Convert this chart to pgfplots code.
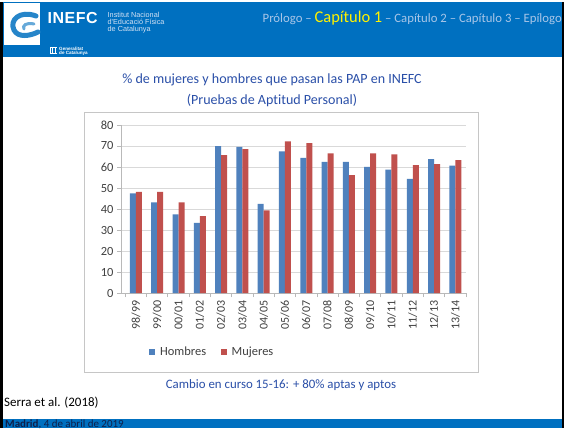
\documentclass[border=0pt]{standalone}
\usepackage{fontspec}
\setmainfont{Carlito}[Ligatures=NoCommon]
\newfontfamily\arial{Liberation Sans}
\usepackage{pgfplots}
\pgfplotsset{compat=1.18}
\definecolor{hdr}{HTML}{0070C0}
\definecolor{bblue}{HTML}{4F81BD}
\definecolor{bred}{HTML}{C0504D}
\definecolor{ttl}{HTML}{2A4FA8}
\definecolor{hlight}{HTML}{A9C6E8}
\definecolor{ticktxt}{HTML}{404040}
\definecolor{navy}{HTML}{10204A}
\begin{document}
\begin{tikzpicture}[x=1bp,y=1bp]
\useasboundingbox (0,0) rectangle (564,428);
\clip (0,0) rectangle (564,428);
\fill[white] (0,0) rectangle (564,428);
% header
\fill[hdr] (0,371) rectangle (564,426);
\fill[white] (4,368) rectangle (103,371);
\fill[white] (4,383) rectangle (40,425);
% logo swoosh
\draw[line width=5bp, color=hdr!85!white, line cap=round] (36,412) .. controls (20,418) and (9,408) .. (14,398) .. controls (18,390) and (30,392) .. (38,396);
\draw[line width=3bp, color=hdr!60!white, line cap=round] (34,404) .. controls (26,406) and (22,402) .. (24,399);
% header texts
\node[anchor=base west, inner sep=0, white, font=\arial\bfseries\fontsize{16}{17}\selectfont] at (47.5,404) {I\kern0.5bp N\kern0.5bp E\kern0.5bp F\kern0.5bp C};
\node[anchor=north west, inner sep=0, align=left, hlight!50!white, font=\arial\fontsize{7.3}{6.8}\selectfont] at (107.5,415.5) {Institut Nacional\\d'Educació Física\\de Catalunya};
\fill[white] (50,374) rectangle (57,381);
\foreach \i in {51,52.6,54.2,55.8}{\fill[hdr] (\i,375) rectangle (\i+0.7,380);}
\node[anchor=north west, inner sep=0, align=left, white, font=\arial\bfseries\fontsize{4.6}{4.8}\selectfont] at (59,381.5) {Generalitat\\de Catalunya};
\node[anchor=base east, inner sep=0, font=\fontsize{12.8}{14}\selectfont] at (562,405) {\textcolor{hlight}{Prólogo~–~}\textcolor{yellow}{\fontsize{16.5}{18}\selectfont Capítulo 1}\textcolor{hlight}{~–~Capítulo 2 – Capítulo 3 – Epílogo}};
% edges
\fill[black] (0,0) rectangle (2.5,426);
\fill[black] (561.5,0) rectangle (564,426);
% chart frame
\draw[gray!45, line width=0.9bp] (84,56) rectangle (478,316);
% titles
\node[ttl, font=\fontsize{14.1}{15}\selectfont] at (272,348) {\% de mujeres y hombres que pasan las PAP en INEFC};
\node[ttl, font=\fontsize{14.1}{15}\selectfont] at (272,328) {(Pruebas de Aptitud Personal)};
\begin{axis}[at={(121bp,135bp)}, anchor=south west, scale only axis,
  width=345bp, height=168bp,
  ybar=0pt, bar width=6bp,
  xmin=-0.7, xmax=15.5, ymin=0, ymax=80,
  ytick={0,10,...,80},
  xtick={0,...,15},
  xticklabels={98/99,99/00,00/01,01/02,02/03,03/04,04/05,05/06,06/07,07/08,08/09,09/10,10/11,11/12,12/13,13/14},
  x tick label style={rotate=90, anchor=east, font=\fontsize{12}{13}\selectfont, text=ticktxt},
  y tick label style={font=\fontsize{12.5}{13}\selectfont, text=ticktxt},
  /pgf/number format/assume math mode=true,
  every major x tick/.append style={draw=none},
  minor xtick={-0.5,0.5,...,15.5},
  tick align=outside, major tick length=4bp, minor tick length=4bp,
  ymajorgrids, grid style={draw=gray!30, line width=0.8bp},
  axis x line*=bottom, axis y line*=left,
  axis line style={gray!55, line width=0.8bp}, tick style={gray!55, line width=0.8bp},
  legend image code/.code={\fill[#1] (0bp,-2.8bp) rectangle (5.6bp,2.8bp);},
  legend style={at={(0.082,-0.35)}, anchor=west, draw=none, fill=none, legend columns=2,
    font=\fontsize{12.5}{13}\selectfont, text=ticktxt, inner sep=0pt,
    /tikz/every odd column/.append style={column sep=3bp},
    /tikz/every even column/.append style={column sep=13bp}},
  legend cell align=left,
]
\addplot[fill=bblue, draw=none] coordinates {(0,47.4) (1,43.2) (2,37.5) (3,33.4) (4,70.0) (5,69.6) (6,42.4) (7,67.4) (8,64.4) (9,62.5) (10,62.5) (11,60.1) (12,58.8) (13,54.4) (14,63.8) (15,60.7)};
\addplot[fill=bred, draw=none] coordinates {(0,48.2) (1,48.2) (2,43.2) (3,36.6) (4,65.7) (5,68.5) (6,39.4) (7,72.2) (8,71.4) (9,66.5) (10,56.1) (11,66.5) (12,66.0) (13,60.9) (14,61.4) (15,63.3)};
\legend{Hombres, Mujeres}
\end{axis}
% bottom texts
\node[ttl, font=\fontsize{12.9}{14}\selectfont] at (281,43) {Cambio en curso 15-16: + 80\% aptas y aptos};
\node[anchor=west, black, font=\fontsize{13}{14}\selectfont, inner sep=0] at (4,25) {Serra et al. (2018)};
% footer
\fill[hdr] (2.5,0) rectangle (561.5,9.5);
\node[anchor=base west, inner sep=0, navy, font=\fontsize{11}{12}\selectfont] at (5,0.8) {\textbf{Madrid}, 4 de abril de 2019};
\end{tikzpicture}
\end{document}
